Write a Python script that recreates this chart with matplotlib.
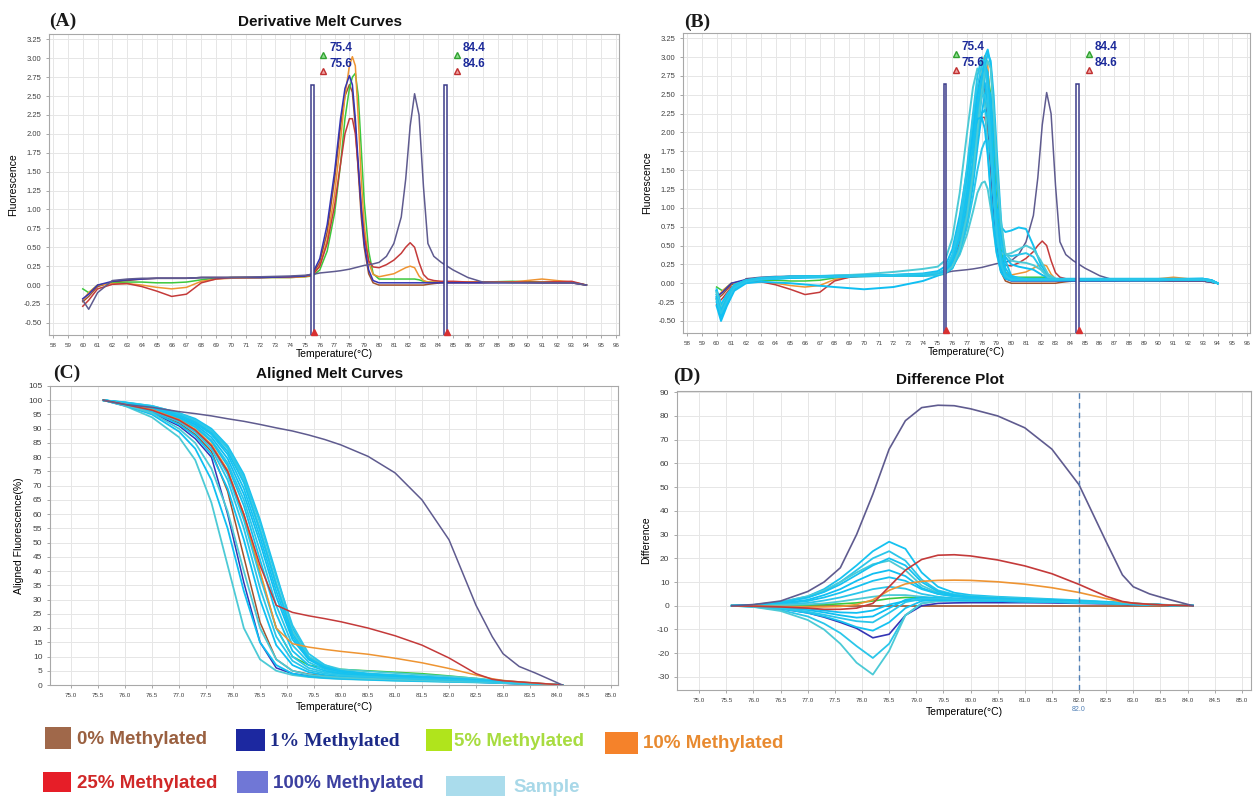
import matplotlib
matplotlib.use('Agg')
import matplotlib.pyplot as plt
import numpy as np
from matplotlib import font_manager
from matplotlib.patches import Rectangle

# ---------------- data ----------------
# derivative melt curves, standards
T_DERIV = [60.0, 60.4, 61.0, 62.0, 63.0, 64.0, 65.0, 66.0, 67.0, 68.0,
           69.0, 70.0, 72.0, 74.0, 75.0, 75.5, 76.0, 76.5, 77.0, 77.4,
           77.7, 78.0, 78.2, 78.4, 78.6, 78.8, 79.0, 79.3, 79.6, 80.0,
           80.5, 81.0, 81.5, 81.8, 82.1, 82.4, 82.7, 83.0, 83.3, 83.7,
           84.2, 85.0, 86.0, 87.0, 89.0, 91.0, 93.0, 94.0]
DERIV_100 = [-0.20, -0.32, -0.10, 0.06, 0.08, 0.09, 0.09, 0.09, 0.09, 0.10,
             0.10, 0.10, 0.11, 0.12, 0.13, 0.14, 0.16, 0.17, 0.18, 0.19,
             0.20, 0.21, 0.22, 0.23, 0.24, 0.25, 0.26, 0.27, 0.28, 0.30,
             0.38, 0.55, 0.90, 1.40, 2.10, 2.53, 2.25, 1.30, 0.55, 0.38,
             0.30, 0.20, 0.10, 0.04, 0.03, 0.03, 0.03, 0.00]
DERIV_1 = [-0.18, -0.12, 0.00, 0.05, 0.07, 0.08, 0.09, 0.09, 0.09, 0.10,
           0.10, 0.10, 0.10, 0.11, 0.12, 0.15, 0.35, 0.80, 1.50, 2.20,
           2.60, 2.77, 2.65, 2.20, 1.60, 1.00, 0.55, 0.20, 0.06, 0.03,
           0.03, 0.03, 0.03, 0.03, 0.03, 0.03, 0.03, 0.03, 0.03, 0.03,
           0.03, 0.03, 0.03, 0.03, 0.03, 0.03, 0.03, 0.00]
DERIV_0 = [-0.22, -0.15, -0.02, 0.04, 0.06, 0.08, 0.09, 0.09, 0.09, 0.10,
           0.10, 0.10, 0.10, 0.11, 0.12, 0.14, 0.30, 0.70, 1.40, 2.10,
           2.50, 2.65, 2.55, 2.10, 1.50, 0.90, 0.50, 0.15, 0.03, 0.00,
           0.00, 0.00, 0.00, 0.00, 0.00, 0.00, 0.00, 0.00, 0.01, 0.02,
           0.03, 0.03, 0.03, 0.03, 0.04, 0.03, 0.03, 0.00]
DERIV_10 = [-0.20, -0.10, 0.00, 0.02, 0.02, 0.00, -0.03, -0.05, -0.03, 0.05,
            0.08, 0.09, 0.10, 0.10, 0.11, 0.13, 0.25, 0.60, 1.20, 1.90,
            2.50, 2.90, 3.02, 2.90, 2.20, 1.40, 0.80, 0.30, 0.14, 0.11,
            0.13, 0.15, 0.20, 0.23, 0.25, 0.23, 0.12, 0.06, 0.04, 0.04,
            0.04, 0.04, 0.04, 0.04, 0.04, 0.08, 0.04, 0.00]
DERIV_5 = [-0.05, -0.10, 0.00, 0.03, 0.04, 0.04, 0.03, 0.03, 0.04, 0.07,
           0.09, 0.10, 0.10, 0.10, 0.11, 0.12, 0.20, 0.45, 0.95, 1.60,
           2.20, 2.60, 2.75, 2.80, 2.50, 1.80, 1.10, 0.45, 0.15, 0.08,
           0.08, 0.08, 0.08, 0.08, 0.08, 0.08, 0.07, 0.05, 0.04, 0.04,
           0.04, 0.04, 0.04, 0.04, 0.05, 0.04, 0.04, 0.00]
DERIV_25 = [-0.28, -0.20, -0.05, 0.01, 0.02, -0.02, -0.08, -0.15, -0.12, 0.03,
            0.08, 0.10, 0.10, 0.11, 0.12, 0.13, 0.25, 0.55, 1.05, 1.60,
            2.00, 2.20, 2.20, 2.00, 1.55, 1.05, 0.65, 0.32, 0.24, 0.23,
            0.27, 0.33, 0.42, 0.50, 0.56, 0.50, 0.30, 0.14, 0.08, 0.06,
            0.05, 0.05, 0.04, 0.04, 0.04, 0.04, 0.05, 0.00]

# derivative melt curves, samples (panel B)
T_SAMPLE = [60.0, 60.3, 60.7, 61.2, 62.0, 63.0, 65.0, 68.0, 70.0, 72.0, 74.0, 75.0, 75.5,
            76.0, 76.5, 77.0, 77.4, 77.7, 78.0, 78.2, 78.4, 78.6, 78.8, 79.0,
            79.3, 79.6, 80.0, 80.5, 81.0, 81.5, 82.0, 82.5, 83.0,
            84.0, 86.0, 90.0, 93.0, 93.6, 94.0]
SAMPLE_DERIV = [
    [-0.10, -0.35, -0.20, -0.05, 0.03, 0.06, 0.08, 0.09, 0.10, 0.10, 0.11, 0.12, 0.15,
     0.25, 0.50, 1.00, 1.60, 2.20, 2.75, 3.00, 3.10, 2.90, 2.30, 1.50,
     0.60, 0.20, 0.08, 0.06, 0.05, 0.05, 0.05, 0.05, 0.05,
     0.05, 0.05, 0.05, 0.06, 0.04, 0.00],
    [-0.15, -0.30, -0.15, -0.02, 0.04, 0.07, 0.09, 0.10, 0.11, 0.11, 0.12, 0.13, 0.17,
     0.35, 0.75, 1.40, 2.10, 2.60, 2.90, 2.95, 2.70, 2.10, 1.40, 0.80,
     0.30, 0.10, 0.05, 0.05, 0.05, 0.05, 0.05, 0.05, 0.05,
     0.05, 0.05, 0.05, 0.05, 0.03, 0.00],
    [-0.20, -0.40, -0.25, -0.08, 0.02, 0.06, 0.08, 0.10, 0.12, 0.15, 0.19, 0.22, 0.30,
     0.60, 1.20, 2.00, 2.60, 2.85, 2.75, 2.40, 1.80, 1.20, 0.70, 0.40,
     0.15, 0.07, 0.05, 0.05, 0.05, 0.05, 0.05, 0.05, 0.05,
     0.05, 0.05, 0.05, 0.05, 0.03, 0.00],
    [-0.10, -0.30, -0.18, -0.04, 0.03, 0.06, 0.08, 0.09, 0.10, 0.10, 0.10, 0.11, 0.13,
     0.20, 0.40, 0.80, 1.30, 1.80, 2.25, 2.50, 2.60, 2.50, 2.00, 1.40,
     0.70, 0.35, 0.25, 0.22, 0.20, 0.18, 0.12, 0.07, 0.05,
     0.05, 0.05, 0.05, 0.06, 0.04, 0.00],
    [-0.15, -0.42, -0.25, -0.06, 0.02, 0.05, 0.07, 0.08, 0.09, 0.10, 0.10, 0.11, 0.14,
     0.28, 0.60, 1.10, 1.60, 2.00, 2.25, 2.30, 2.20, 1.85, 1.40, 1.00,
     0.75, 0.68, 0.70, 0.74, 0.72, 0.50, 0.25, 0.10, 0.05,
     0.05, 0.05, 0.05, 0.05, 0.03, 0.00],
    [-0.12, -0.30, -0.20, -0.05, 0.03, 0.06, 0.08, 0.09, 0.10, 0.10, 0.11, 0.12, 0.14,
     0.22, 0.40, 0.75, 1.15, 1.50, 1.78, 1.88, 1.90, 1.70, 1.30, 0.90,
     0.50, 0.38, 0.36, 0.38, 0.40, 0.35, 0.20, 0.08, 0.05,
     0.05, 0.05, 0.05, 0.05, 0.03, 0.00],
    [-0.10, -0.30, -0.18, -0.05, 0.03, 0.06, 0.08, 0.09, 0.10, 0.10, 0.11, 0.12, 0.14,
     0.22, 0.38, 0.65, 0.95, 1.20, 1.33, 1.35, 1.25, 1.00, 0.75, 0.55,
     0.40, 0.38, 0.40, 0.45, 0.50, 0.45, 0.30, 0.12, 0.06,
     0.05, 0.05, 0.05, 0.05, 0.03, 0.00],
    [-0.30, -0.50, -0.30, -0.10, 0.00, 0.02, 0.00, -0.05, -0.08, -0.05, 0.03, 0.10, 0.14,
     0.30, 0.70, 1.35, 2.00, 2.50, 2.75, 2.65, 2.30, 1.70, 1.10, 0.60,
     0.22, 0.08, 0.04, 0.04, 0.04, 0.04, 0.04, 0.04, 0.04,
     0.04, 0.04, 0.04, 0.05, 0.03, 0.00],
    [-0.08, -0.28, -0.15, -0.03, 0.04, 0.07, 0.09, 0.10, 0.10, 0.11, 0.11, 0.12, 0.14,
     0.20, 0.42, 0.85, 1.40, 1.95, 2.50, 2.85, 3.05, 2.95, 2.50, 1.80,
     0.85, 0.30, 0.10, 0.07, 0.06, 0.06, 0.06, 0.06, 0.06,
     0.06, 0.06, 0.06, 0.06, 0.04, 0.00],
    [-0.20, -0.38, -0.22, -0.06, 0.03, 0.06, 0.08, 0.09, 0.10, 0.10, 0.11, 0.12, 0.16,
     0.32, 0.70, 1.30, 1.85, 2.25, 2.48, 2.50, 2.30, 1.80, 1.20, 0.70,
     0.28, 0.12, 0.07, 0.06, 0.05, 0.05, 0.05, 0.05, 0.05,
     0.05, 0.05, 0.05, 0.05, 0.03, 0.00],
    [-0.12, -0.33, -0.20, -0.05, 0.03, 0.06, 0.08, 0.09, 0.10, 0.10, 0.11, 0.12, 0.14,
     0.22, 0.45, 0.90, 1.45, 2.00, 2.55, 2.80, 2.95, 2.85, 2.30, 1.60,
     0.80, 0.40, 0.30, 0.28, 0.27, 0.24, 0.18, 0.08, 0.05,
     0.05, 0.05, 0.05, 0.05, 0.03, 0.00],
    [-0.25, -0.45, -0.28, -0.07, 0.02, 0.05, 0.07, 0.09, 0.10, 0.11, 0.13, 0.16, 0.22,
     0.45, 0.90, 1.50, 1.95, 2.18, 2.20, 2.05, 1.70, 1.20, 0.75, 0.42,
     0.15, 0.06, 0.04, 0.04, 0.04, 0.04, 0.04, 0.04, 0.04,
     0.04, 0.04, 0.04, 0.05, 0.03, 0.00],
    [-0.18, -0.36, -0.20, -0.05, 0.03, 0.06, 0.08, 0.09, 0.10, 0.10, 0.11, 0.13, 0.16,
     0.30, 0.62, 1.20, 1.80, 2.35, 2.75, 2.90, 2.80, 2.30, 1.60, 0.95,
     0.38, 0.14, 0.07, 0.05, 0.05, 0.05, 0.05, 0.05, 0.05,
     0.05, 0.05, 0.05, 0.05, 0.03, 0.00],
    [-0.22, -0.40, -0.24, -0.06, 0.02, 0.05, 0.08, 0.09, 0.10, 0.11, 0.12, 0.14, 0.18,
     0.38, 0.80, 1.55, 2.25, 2.75, 3.00, 2.90, 2.50, 1.85, 1.20, 0.68,
     0.25, 0.09, 0.05, 0.05, 0.05, 0.05, 0.05, 0.05, 0.05,
     0.05, 0.05, 0.05, 0.05, 0.03, 0.00],
]

# aligned melt curves (C) and difference plot (D) share one temperature grid
T_ALIGN = [75.6, 76.0, 76.5, 77.0, 77.3, 77.6, 77.9, 78.2, 78.5, 78.8, 79.1, 79.4,
           79.7, 80.0, 80.5, 81.0, 81.5, 82.0, 82.5, 82.8, 83.0, 83.3, 83.6, 84.1]
ALIGNED_100 = [100, 98.5, 97.5, 96.0, 95.3, 94.5, 93.5, 92.6, 91.5, 90.3, 89.2, 87.8,
               86.2, 84.3, 80.3, 74.5, 65.0, 51.0, 28.0, 17.0, 11.0, 6.5, 4.2, 0]
ALIGNED_25 = [100, 98.5, 96.5, 93.0, 89.5, 84.0, 75.0, 60.0, 42.0, 28.0, 25.5, 24.3,
              23.3, 22.2, 20.0, 17.3, 14.0, 9.5, 4.0, 2.0, 1.5, 1.1, 0.7, 0]
ALIGNED_10 = [100, 98.6, 96.7, 93.2, 89.8, 84.5, 75.5, 60.0, 40.0, 20.0, 14.5, 13.3,
              12.5, 11.8, 10.8, 9.4, 7.8, 5.8, 3.5, 2.2, 1.6, 1.1, 0.7, 0]
ALIGNED_5 = [100, 98.5, 96.5, 93.0, 89.5, 84.0, 75.0, 59.0, 39.0, 20.0, 10.0, 7.0,
             6.0, 5.5, 5.0, 4.5, 4.0, 3.2, 2.3, 1.6, 1.2, 0.8, 0.5, 0]
ALIGNED_1 = [100, 98.0, 95.5, 91.0, 86.5, 80.0, 60.0, 36.0, 15.0, 6.0, 4.0, 3.2,
             2.8, 2.5, 2.1, 1.8, 1.5, 1.2, 1.0, 0.8, 0.6, 0.4, 0.2, 0]
ALIGNED_0 = [100, 98.3, 96.0, 92.0, 88.0, 82.0, 68.0, 45.0, 22.0, 9.0, 5.0, 3.8,
             3.2, 2.8, 2.4, 2.0, 1.7, 1.4, 1.1, 0.9, 0.7, 0.5, 0.3, 0]
SAMPLE_ALIGNED = [
    [100, 99.0, 97.5, 94.5, 92.0, 88.0, 81.0, 69.0, 52.0, 33.0, 17.0, 9.0,
     6.0, 4.5, 3.5, 3.0, 2.5, 2.0, 1.5, 1.2, 1.0, 0.7, 0.4, 0],
    [100, 98.8, 96.5, 93.0, 89.5, 84.0, 74.0, 58.0, 38.0, 20.0, 10.0, 6.0,
     4.5, 3.8, 3.2, 2.8, 2.3, 1.9, 1.5, 1.2, 1.0, 0.7, 0.4, 0],
    [100, 98.0, 94.0, 87.0, 79.0, 64.0, 42.0, 20.0, 9.0, 5.0, 3.5, 2.8,
     2.4, 2.1, 1.8, 1.5, 1.3, 1.1, 0.9, 0.8, 0.7, 0.5, 0.3, 0],
    [100, 98.2, 95.0, 89.0, 83.0, 72.0, 55.0, 33.0, 15.0, 7.0, 4.0, 3.0,
     2.5, 2.2, 1.9, 1.6, 1.4, 1.2, 1.0, 0.8, 0.7, 0.5, 0.3, 0],
    [100, 99.2, 98.0, 95.5, 93.5, 90.0, 84.0, 74.0, 58.0, 39.0, 20.0, 10.0,
     6.5, 5.0, 4.0, 3.5, 3.0, 2.5, 2.0, 1.6, 1.3, 0.9, 0.5, 0],
    [100, 99.0, 97.0, 94.0, 91.0, 86.0, 78.0, 65.0, 47.0, 28.0, 14.0, 8.0,
     5.5, 4.2, 3.4, 2.9, 2.4, 2.0, 1.6, 1.3, 1.0, 0.7, 0.4, 0],
    [100, 99.2, 97.8, 95.0, 92.5, 89.0, 83.0, 72.0, 55.0, 36.0, 19.0, 10.0,
     7.0, 5.5, 4.8, 4.2, 3.6, 3.0, 2.3, 1.8, 1.5, 1.0, 0.6, 0],
    [100, 98.5, 96.0, 91.5, 87.5, 81.0, 69.0, 51.0, 30.0, 14.0, 7.0, 4.5,
     3.5, 3.0, 2.6, 2.2, 1.9, 1.6, 1.3, 1.0, 0.8, 0.6, 0.3, 0],
    [100, 99.0, 97.0, 93.5, 90.5, 85.5, 77.0, 63.0, 44.0, 25.0, 12.0, 7.0,
     5.0, 4.0, 3.2, 2.7, 2.3, 1.9, 1.5, 1.2, 1.0, 0.7, 0.4, 0],
    [100, 99.3, 98.0, 95.5, 93.0, 89.5, 83.5, 73.0, 57.0, 38.0, 21.0, 11.0,
     7.0, 5.0, 4.0, 3.4, 2.9, 2.4, 1.9, 1.5, 1.2, 0.8, 0.5, 0],
    [100, 98.3, 95.5, 90.0, 85.0, 76.0, 61.0, 40.0, 20.0, 9.0, 5.0, 3.6,
     3.0, 2.6, 2.2, 1.9, 1.6, 1.3, 1.1, 0.9, 0.7, 0.5, 0.3, 0],
    [100, 99.0, 97.3, 94.0, 91.5, 87.0, 79.5, 67.0, 50.0, 31.0, 16.0, 9.0,
     6.0, 4.8, 3.8, 3.2, 2.7, 2.2, 1.7, 1.4, 1.1, 0.8, 0.45, 0],
    [100, 99.1, 97.6, 94.8, 92.3, 88.5, 82.0, 71.0, 54.0, 35.0, 18.0, 9.5,
     6.2, 4.8, 3.8, 3.2, 2.7, 2.2, 1.7, 1.3, 1.1, 0.8, 0.45, 0],
    [100, 98.7, 96.3, 92.5, 88.8, 83.0, 72.0, 55.0, 34.0, 17.0, 8.5, 5.2,
     4.0, 3.4, 2.9, 2.5, 2.1, 1.8, 1.4, 1.1, 0.9, 0.6, 0.35, 0],
]

DIFF_100 = [0, 0.5, 2, 6, 10, 16, 30, 47, 66, 78, 83.5, 84.5,
            84.3, 83, 80, 75, 66, 51, 27, 13, 8, 5, 3, 0]
DIFF_25 = [0, -0.2, -0.5, -1, -1.5, -1.5, -1, 1, 8, 15, 19.5, 21.3,
           21.5, 21, 19.3, 16.8, 13.5, 9, 4, 1.8, 1.1, 0.6, 0.3, 0]
DIFF_10 = [0, -0.1, -0.3, -0.5, -0.5, -0.3, 0.5, 2.5, 6.5, 9.2, 10.3, 10.7,
           10.8, 10.7, 10.1, 9.1, 7.6, 5.6, 3.0, 1.6, 1.1, 0.6, 0.3, 0]
DIFF_5 = [0, 0, 0.1, 0.3, 0.5, 0.8, 1.2, 2, 3, 3.5, 3.3, 3,
          2.8, 2.6, 2.5, 2.4, 2.2, 1.9, 1.4, 1.0, 0.8, 0.5, 0.3, 0]
DIFF_1 = [0, -0.3, -1.2, -3, -4.8, -7, -9.5, -13.5, -12, -4, 0, 1,
          1.2, 1.3, 1.3, 1.3, 1.2, 1.0, 0.8, 0.6, 0.5, 0.3, 0.2, 0]
DIFF_0 = [0, 0, 0, 0, 0, 0, 0, 0, 0, 0, 0, 0,
          0, 0, 0, 0, 0, 0, 0, 0, 0, 0, 0, 0]
SAMPLE_DIFF = [
    [0, 0.3, 1.5, 4, 7, 11.5, 17, 23, 27, 24, 14, 8,
     5.5, 4.5, 3.8, 3.3, 2.8, 2.3, 1.7, 1.3, 1.0, 0.7, 0.4, 0],
    [0, 0.3, 1.3, 3.5, 6, 10, 15, 20, 23, 19, 11, 6.5,
     4.8, 4, 3.4, 3, 2.5, 2, 1.5, 1.1, 0.9, 0.6, 0.3, 0],
    [0, 0.4, 1.6, 4, 6.5, 10, 14, 17.5, 19, 15, 8.5, 5.5,
     4.5, 4, 3.5, 3, 2.5, 2, 1.5, 1.2, 0.9, 0.6, 0.3, 0],
    [0, 0.2, 1, 2.5, 4.5, 7, 10.5, 13.5, 15, 12.5, 7.5, 5,
     4, 3.5, 3, 2.6, 2.2, 1.8, 1.4, 1.1, 0.8, 0.5, 0.3, 0],
    [0, 0.2, 0.8, 2, 3.5, 5.5, 8, 10.5, 12, 10.5, 7, 5,
     4, 3.5, 3, 2.6, 2.2, 1.8, 1.4, 1.1, 0.8, 0.5, 0.3, 0],
    [0, 0.1, 0.5, 1.2, 2.2, 3.5, 5.2, 7, 8, 7.2, 5, 3.8,
     3.2, 2.8, 2.5, 2.2, 1.9, 1.6, 1.3, 1.0, 0.8, 0.5, 0.3, 0],
    [0, 0, 0.2, 0.6, 1, 1.8, 2.8, 3.8, 4.5, 4.5, 3.8, 3.2,
     2.8, 2.6, 2.3, 2.0, 1.8, 1.5, 1.2, 1.0, 0.8, 0.5, 0.3, 0],
    [0, -0.2, -0.8, -1.8, -2.8, -4, -5, -4.5, -1, 2.5, 3.5, 3.2,
     3, 2.8, 2.5, 2.2, 1.9, 1.6, 1.3, 1.0, 0.8, 0.5, 0.3, 0],
    [0, -0.3, -1.2, -3, -4.5, -6.5, -9, -10.5, -7, -1, 2, 2.5,
     2.5, 2.3, 2.1, 1.9, 1.7, 1.4, 1.1, 0.9, 0.7, 0.5, 0.3, 0],
    [0, -0.4, -1.8, -4.5, -7.5, -11.5, -17, -22, -16, -4, 1, 2,
     2.2, 2.1, 2.0, 1.8, 1.6, 1.3, 1.0, 0.8, 0.6, 0.4, 0.2, 0],
    [0, -0.5, -2.2, -6, -10, -16, -24, -29, -19, -4, 1, 2,
     2.2, 2.1, 2, 1.8, 1.6, 1.3, 1.0, 0.8, 0.6, 0.4, 0.2, 0],
    [0, -0.1, -0.5, -1.2, -2, -2.8, -3, -2, 0.5, 2, 2.5, 2.4,
     2.3, 2.2, 2, 1.8, 1.6, 1.3, 1.1, 0.9, 0.7, 0.5, 0.3, 0],
    [0, 0.3, 1.4, 3.5, 5.8, 9, 13, 17, 20, 17, 10, 6,
     4.5, 3.8, 3.2, 2.8, 2.4, 2, 1.5, 1.2, 0.9, 0.6, 0.3, 0],
    [0, -0.2, -1, -2.5, -3.8, -5.2, -6.5, -7, -3, 1.5, 3, 3,
     2.8, 2.6, 2.4, 2.1, 1.8, 1.5, 1.2, 1.0, 0.8, 0.5, 0.3, 0],
]

CURSORS = [(75.4, 75.6), (84.4, 84.6)]
DIFF_MARK = 82.0
LEGEND_LABELS = ['0% Methylated', '1% Methylated', '5% Methylated', '10% Methylated',
                 '25% Methylated', '100% Methylated', 'Sample']

# ---------------- styling ----------------
names = {f.name for f in font_manager.fontManager.ttflist}
NARROW = 'Liberation Sans Narrow' if 'Liberation Sans Narrow' in names else 'Liberation Sans'
plt.rcParams['font.family'] = ['Liberation Sans', 'DejaVu Sans']
plt.rcParams['axes.unicode_minus'] = False

C_100 = '#5f5b8f'
C_1 = '#3434b4'
C_0 = '#a0522d'
C_5 = '#3cc83c'
C_10 = '#ee9432'
C_25 = '#c43a3a'
SAMPLE_COLS = ['#16c2f0', '#2ac6ea', '#4ccad6', '#10bff2']

W, H = 1258, 797


def fx(px):
    return px / W


def fy(py):
    return 1 - py / H


def style_axis(ax):
    ax.grid(True, color='#e6e6e6', lw=0.7)
    ax.set_axisbelow(True)
    for s in ax.spines.values():
        s.set_color('#a8a8a8')
        s.set_linewidth(0.8)
    ax.tick_params(colors='#9a9a9a', labelcolor='#404040', length=2, width=0.6)


def deriv_panel(ax, samples):
    style_axis(ax)
    ax.set_xlim(57.72, 96.2)
    ax.set_ylim(-0.66, 3.32)
    ax.set_xticks(range(58, 97))
    ax.set_xticklabels([str(t) for t in range(58, 97)], fontsize=4.5)
    yt = np.arange(-0.5, 3.26, 0.25)
    ax.set_yticks(yt)
    ax.set_yticklabels(['%.2f' % v for v in yt], fontsize=5.5)
    ax.set_xlabel('Temperature(°C)', fontsize=7.5, labelpad=1)
    ax.set_ylabel('Fluorescence', fontsize=7.5, labelpad=4)
    for y, c in [(DERIV_0, C_0), (DERIV_5, C_5), (DERIV_10, C_10),
                 (DERIV_25, C_25), (DERIV_1, C_1), (DERIV_100, C_100)]:
        ax.plot(T_DERIV, y, color=c, lw=1.1)
    if samples:
        for i, y in enumerate(SAMPLE_DERIV):
            ax.plot(T_SAMPLE, y, color=SAMPLE_COLS[i % 4], lw=1.4)
    # cursor bars with their readouts
    ylo = ax.get_ylim()[0]
    for lo, hi in CURSORS:
        ax.add_patch(Rectangle((lo, ylo), hi - lo, 2.65 - ylo, fc='white',
                               ec='#3c3c8a', lw=1.1, zorder=5))
        mid = (lo + hi) / 2
        ax.plot(mid + 0.75, 3.04, marker='^', ms=5, mfc='#8fe08f', mec='#30a030', zorder=6)
        ax.plot(mid + 0.75, 2.83, marker='^', ms=5, mfc='#f0a0a0', mec='#c03030', zorder=6)
        ax.text(mid + 1.15, 3.13, '%.1f' % lo, color='#1c2a9a', fontsize=8.5,
                fontweight='bold', va='center', zorder=6)
        ax.text(mid + 1.15, 2.92, '%.1f' % hi, color='#1c2a9a', fontsize=8.5,
                fontweight='bold', va='center', zorder=6)
        ax.plot(mid + 0.1, ylo + 0.04, marker='^', ms=5, color='#d83030',
                clip_on=False, zorder=7)


def align_axis(ax):
    style_axis(ax)
    xt = np.arange(75.0, 85.01, 0.5)
    ax.set_xticks(xt)
    ax.set_xticklabels(['%.1f' % v for v in xt], fontsize=4.5)
    ax.set_xlabel('Temperature(°C)', fontsize=7.5, labelpad=3)


fig = plt.figure(figsize=(W / 100, H / 100), dpi=100)

# (A)
axA = fig.add_axes([fx(49), fy(335), fx(619) - fx(49), fy(34) - fy(335)])
deriv_panel(axA, False)

# (B)
axB = fig.add_axes([fx(683), fy(333), fx(1250) - fx(683), fy(33) - fy(333)])
deriv_panel(axB, True)

# (C)
axC = fig.add_axes([fx(50), fy(685), fx(618) - fx(50), fy(386) - fy(685)])
align_axis(axC)
axC.set_xlim(74.61, 85.13)
axC.set_ylim(0, 105)
axC.set_yticks(range(0, 106, 5))
axC.tick_params(axis='y', labelsize=6)
axC.set_ylabel('Aligned Fluorescence(%)', fontsize=7.5, labelpad=3)
for y, c in [(ALIGNED_0, C_0), (ALIGNED_5, C_5), (ALIGNED_1, C_1)]:
    axC.plot(T_ALIGN, y, color=c, lw=1.1)
for i, y in enumerate(SAMPLE_ALIGNED):
    axC.plot(T_ALIGN, y, color=SAMPLE_COLS[i % 4], lw=1.3)
for y, c in [(ALIGNED_10, C_10), (ALIGNED_25, C_25), (ALIGNED_100, C_100)]:
    axC.plot(T_ALIGN, y, color=c, lw=1.1)

# (D)
axD = fig.add_axes([fx(677), fy(690), fx(1251) - fx(677), fy(391) - fy(690)])
align_axis(axD)
axD.set_xlim(74.59, 85.17)
axD.set_ylim(-35.5, 90.5)
axD.set_yticks(range(-30, 91, 10))
axD.tick_params(axis='y', labelsize=6)
axD.set_ylabel('Difference', fontsize=7.5, labelpad=4)
for y, c in [(DIFF_0, C_0), (DIFF_5, C_5), (DIFF_1, C_1)]:
    axD.plot(T_ALIGN, y, color=c, lw=1.2)
for i, y in enumerate(SAMPLE_DIFF):
    axD.plot(T_ALIGN, y, color=SAMPLE_COLS[i % 4], lw=1.3)
for y, c in [(DIFF_10, C_10), (DIFF_25, C_25), (DIFF_100, C_100)]:
    axD.plot(T_ALIGN, y, color=c, lw=1.2)
axD.axvline(DIFF_MARK, color='#4f7fb5', lw=1.0, ls=(0, (4, 3)))
axD.text(DIFF_MARK, -0.055, '%.1f' % DIFF_MARK, transform=axD.get_xaxis_transform(),
         ha='center', va='top', fontsize=5, color='#4f7fb5')

# titles and panel letters
for x, y, t in [(320, 22, 'Derivative Melt Curves'), (330, 374, 'Aligned Melt Curves'),
                (950, 380, 'Difference Plot')]:
    fig.text(fx(x), fy(y), t, ha='center', va='center', fontsize=11,
             fontweight='bold', family=NARROW, color='#111111')
for x, y, t in [(49, 21, '(A)'), (684, 22, '(B)'), (53, 373, '(C)'), (673, 376, '(D)')]:
    fig.text(fx(x), fy(y), t, ha='left', va='center', fontsize=14,
             fontweight='bold', family='Liberation Serif', color='#1a1a1a')

# hand-made legend below the panels
legend_items = [
    (45, 738, 26, 22, '#a0684a', '#9a6040', NARROW, 77),
    (236, 740, 29, 22, '#1c28a0', '#1c2a88', 'Liberation Serif', 270),
    (426, 740, 26, 22, '#b0e41c', '#a8dc40', NARROW, 454),
    (605, 743, 33, 22, '#f5822a', '#e88a30', NARROW, 643),
    (43, 782, 28, 20, '#e61e28', '#d02828', NARROW, 77),
    (237, 782, 31, 22, '#7077d6', '#3c40a0', NARROW, 273),
    (446, 786, 59, 20, '#aadcec', '#a8d8e8', NARROW, 513),
]
for (sx, sy, sw, sh, sc, tc, fam, tx), label in zip(legend_items, LEGEND_LABELS):
    fig.patches.append(Rectangle((fx(sx), fy(sy + sh / 2)), sw / W, sh / H,
                                 transform=fig.transFigure, fc=sc, ec='none'))
    fs = 14 if fam == 'Liberation Serif' else 13.5
    fig.text(fx(tx), fy(sy + 1), label, ha='left', va='center', fontsize=fs,
             fontweight='bold', family=fam, color=tc)

fig.savefig('out.png', dpi=100)
